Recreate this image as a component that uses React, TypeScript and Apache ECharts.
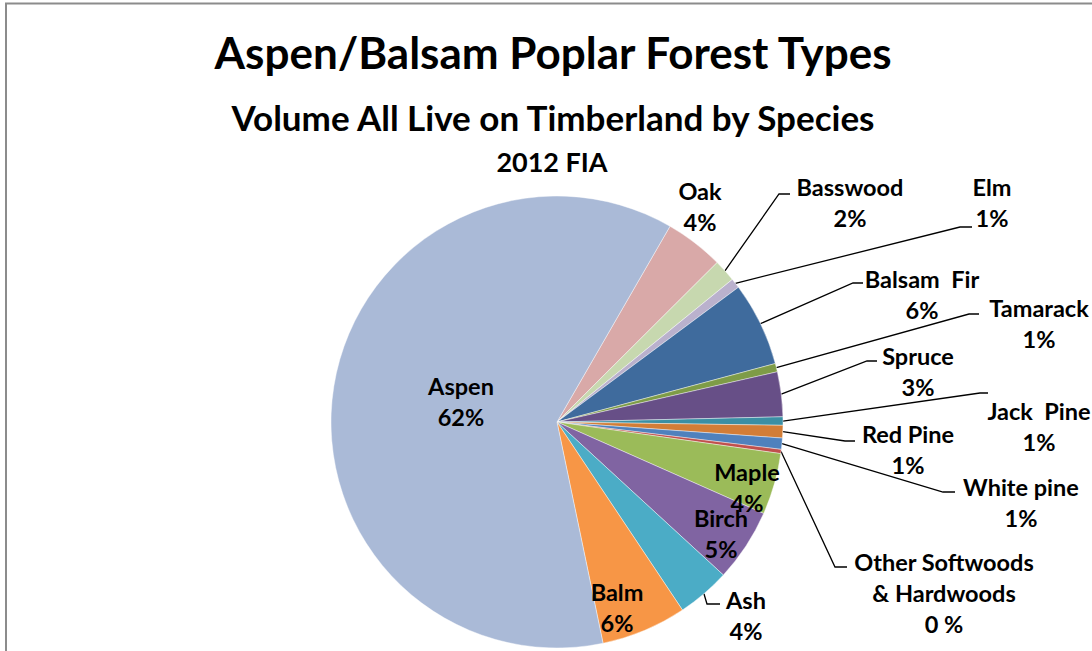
import React, { useEffect, useRef } from "react";
import * as echarts from "echarts";

// ---- data ----
const species = [
  "Oak",
  "Basswood",
  "Elm",
  "Balsam  Fir",
  "Tamarack",
  "Spruce",
  "Jack  Pine",
  "Red Pine",
  "White pine",
  "Other Softwoods\n& Hardwoods",
  "Maple",
  "Birch",
  "Ash",
  "Balm",
  "Aspen",
];
const volumeShare = [4.2, 1.6, 0.7, 6.0, 0.6, 3.2, 0.6, 0.9, 0.8, 0.3, 4.4, 5.2, 3.8, 6.1, 61.6];
const sliceColors = [
  "#D9A9A8",
  "#C7D8AF",
  "#BAB1CD",
  "#3F6B9D",
  "#7E9C47",
  "#674F87",
  "#3B8FA4",
  "#D27D37",
  "#4F81BD",
  "#C0504D",
  "#9BBB59",
  "#8064A2",
  "#4BACC6",
  "#F79646",
  "#AABAD7",
];
const titleLines = [
  "Aspen/Balsam Poplar Forest Types",
  "Volume All Live on Timberland by Species",
  "2012 FIA",
];

// label placement (label block centre, leader end point, elbow length)
const labelPlacement: Record<string, { x: number; y: number; ex?: number; ey?: number; seg?: number; line: boolean }> = {
  "Oak": { x: 700, y: 206, line: false },
  "Basswood": { x: 850, y: 202, ex: 790, ey: 194, seg: 11, line: true },
  "Elm": { x: 992, y: 202, ex: 972, ey: 227, seg: 12, line: true },
  "Balsam  Fir": { x: 922, y: 294, ex: 863, ey: 283, seg: 10, line: true },
  "Tamarack": { x: 1039, y: 323, ex: 979, ey: 314, seg: 10, line: true },
  "Spruce": { x: 918, y: 371, ex: 877, ey: 361, seg: 10, line: true },
  "Jack  Pine": { x: 1039, y: 426, ex: 988, ey: 393, seg: 8, line: true },
  "Red Pine": { x: 908, y: 449, ex: 855, ey: 441, seg: 10, line: true },
  "White pine": { x: 1021, y: 502, ex: 955, ey: 492, seg: 12, line: true },
  "Other Softwoods\n& Hardwoods": { x: 944, y: 593, ex: 847, ey: 567, seg: 12, line: true },
  "Maple": { x: 747, y: 487, line: false },
  "Birch": { x: 721, y: 533, line: false },
  "Ash": { x: 746, y: 615, ex: 720, ey: 604, seg: 13, line: true },
  "Balm": { x: 617, y: 607, line: false },
  "Aspen": { x: 461, y: 401, line: false },
};

const FONT = "Lato, 'Open Sans', sans-serif";

export default function App() {
  const ref = useRef<HTMLDivElement>(null);

  useEffect(() => {
    if (!ref.current) return;
    const chart = echarts.init(ref.current, undefined, { renderer: "svg" });

    const data = species.map((name, i) => {
      const pl = labelPlacement[name];
      return {
        name,
        value: volumeShare[i],
        itemStyle: { color: sliceColors[i] },
        label: { position: pl.line || name === "Oak" ? "outside" : "inside" },
        labelLine: { show: pl.line },
      };
    });

    chart.setOption({
      animation: false,
      backgroundColor: "#ffffff",
      graphic: [
        {
          type: "rect",
          shape: { x: 6, y: 3.5, width: 1300, height: 900 },
          style: { fill: "none", stroke: "#8c8c8c", lineWidth: 2 },
          silent: true,
        },
        {
          type: "text",
          x: 553,
          y: 52,
          style: {
            text: titleLines[0],
            fill: "#000",
            font: `bold 44px ${FONT}`,
            textAlign: "center",
            textVerticalAlign: "middle",
          },
        },
        {
          type: "text",
          x: 553,
          y: 117,
          style: {
            text: titleLines[1],
            fill: "#000",
            font: `bold 35px ${FONT}`,
            textAlign: "center",
            textVerticalAlign: "middle",
          },
        },
        {
          type: "text",
          x: 552,
          y: 161,
          style: {
            text: titleLines[2],
            fill: "#000",
            font: `bold 27px ${FONT}`,
            textAlign: "center",
            textVerticalAlign: "middle",
          },
        },
      ],
      series: [
        {
          type: "pie",
          center: [557, 422],
          radius: 226,
          startAngle: 60,
          clockwise: true,
          data,
          itemStyle: { borderColor: "rgba(255,255,255,0.7)", borderWidth: 0.6 },
          label: {
            show: true,
            color: "#000",
            fontFamily: FONT,
            fontWeight: "bold",
            fontSize: 23.5,
            lineHeight: 31,
            align: "center",
            formatter: (p: any) => {
              const pct = Math.round(p.percent);
              const sep = p.name.startsWith("Other") ? " " : "";
              return `${p.name}\n${pct}${sep}%`;
            },
          },
          labelLine: {
            show: true,
            lineStyle: { color: "#000", width: 1.3 },
          },
          labelLayout: (params: any) => {
            const name = species[params.dataIndex];
            const pl = labelPlacement[name];
            const out: any = { x: pl.x, y: pl.y, align: "center", verticalAlign: "middle" };
            if (pl.line && params.labelLinePoints && params.labelLinePoints.length) {
              const start = params.labelLinePoints[0];
              out.labelLinePoints = [
                start,
                [pl.ex! - pl.seg!, pl.ey!],
                [pl.ex!, pl.ey!],
              ];
            }
            return out;
          },
        },
      ],
    });

    return () => chart.dispose();
  }, []);

  return (
    <div
      ref={ref}
      style={{ position: "absolute", left: 0, top: 0, width: 1092, height: 651 }}
    />
  );
}
